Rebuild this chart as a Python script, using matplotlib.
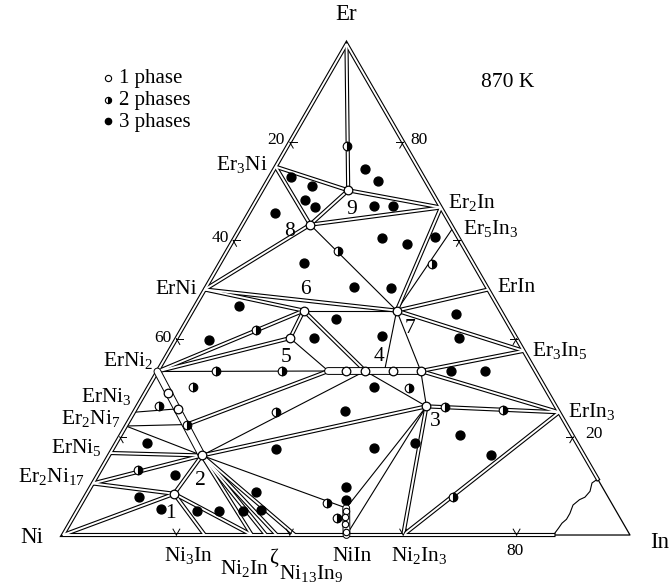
import numpy as np
import matplotlib
matplotlib.use("Agg")
import matplotlib.pyplot as plt

plt.rcParams["font.family"] = ["Liberation Serif", "DejaVu Serif"]
plt.rcParams["mathtext.default"] = "regular"

# compositions in at.% (Er, In), Ni is the balance
corner_names = ["Ni", "In", "Er"]
corner_er = [0, 0, 100]
corner_in = [0, 100, 0]

binary_names = ["Er3Ni", "ErNi", "ErNi2", "ErNi3", "Er2Ni7", "ErNi5", "Er2Ni17",
                "Er2In", "Er5In3", "ErIn", "Er3In5", "ErIn3",
                "Ni3In", "Ni2In", "Zl", "Zr", "Ni13In9", "NiIn", "Ni2In3"]
binary_er = [75, 50, 33.3, 25, 22.2, 16.7, 10.5,
             66.7, 62.5, 50, 37.5, 25,
             0, 0, 0, 0, 0, 0, 0]
binary_in = [0, 0, 0, 0, 0, 0, 0,
             33.3, 37.5, 50, 62.5, 75,
             25, 33.3, 35.8, 37.7, 40.9, 50, 60]

ternary_names = ["T1", "T2", "T3", "T5", "T6", "T7", "T8", "T9"]
ternary_er = [8.4, 16.2, 26.2, 40.1, 45.7, 45.7, 63.2, 70.2]
ternary_in = [15.4, 16.4, 51.0, 20.0, 19.6, 36.0, 12.0, 15.2]

# solid-solution band, ErNi2 line, NiIn column, liquid limits
aux_names = ["B0", "B1", "B2", "B7", "B3", "B4", "S1", "S2", "S3", "Ctop", "Ltop", "Lbot"]
aux_er = [33.4, 33.4, 33.4, 33.4, 33.4, 33.4, 29.0, 25.7, 22.5, 5.5, 11.4, 0]
aux_in = [30.1, 33.3, 36.6, 40.0, 41.5, 46.4, 4.1, 7.4, 10.6, 47.2, 88.6, 86.5]

column_er = [4.9, 3.6, 2.25, 0.7]
column_in = [47.4, 48.0, 48.7, 49.5]

liquid_er = [0, 1.4, 2.4, 3.2, 4.4, 6.1, 7.2, 7.7, 8.9, 10.6, 11.4]
liquid_in = [86.5, 86.7, 86.8, 87.2, 87.2, 86.9, 87.5, 88.2, 88.5, 88.0, 88.6]

double_edges = [("Er", "T9"), ("Er3Ni", "T9"), ("T9", "Er2In"), ("Er3Ni", "T8"),
                ("T9", "T8"), ("T8", "Er2In"), ("T8", "ErNi"), ("ErNi", "T7"),
                ("ErNi", "T6"), ("T6", "T5"), ("T6", "ErNi2"), ("T5", "ErNi2"),
                ("T6", "B2"), ("Er2In", "T7"), ("ErIn", "T7"), ("T7", "Er3In5"),
                ("B4", "Er3In5"), ("B4", "ErIn3"), ("T3", "ErIn3"), ("T3", "Ni2In3"),
                ("ErIn3", "Ni2In3"), ("T3", "T2"), ("B0", "S3"), ("ErNi5", "T2"),
                ("Er2Ni17", "T2"), ("T1", "T2"), ("T1", "Er2Ni17"), ("T1", "Ni"),
                ("T1", "Ni3In"), ("T1", "Ni2In"), ("T2", "Ni2In"), ("T2", "Zl"),
                ("T2", "Zr"), ("T2", "Ni13In9")]
single_edges = [("T8", "T7"), ("T6", "T7"), ("T5", "B0"), ("ErNi2", "B0"),
                ("T7", "B7"), ("T7", "B4"), ("B4", "T3"), ("B2", "T3"), ("B2", "T2"),
                ("T3", "NiIn"), ("T3", "Ctop"), ("T2", "Ctop"), ("Er2Ni7", "T2"),
                ("Er2Ni7", "S3"), ("ErNi3", "S2"), ("Er5In3", "T7")]
band_edges = [("B0", "B4"), ("NiIn", "Ctop"), ("ErNi2", "T2")]

one_phase = ["T1", "T2", "T3", "T5", "T6", "T7", "T8", "T9", "B1", "B2", "B3", "B4", "S1", "S2"]

two_er = [79.2, 57.9, 55.2, 41.8, 33.4, 33.4, 30.2, 30.0, 25.0, 26.2, 22.5, 26.1, 25.4,
          13.2, 7.8, 6.5, 3.4]
two_in = [10.5, 19.6, 37.4, 13.1, 10.3, 22.0, 7.9, 46.1, 25.1, 3.8, 10.6, 54.3, 64.9,
          6.6, 64.9, 43.3, 46.6]

three_er = [74.5, 72.0, 73.0, 71.1, 68.2, 66.8, 67.0, 67.0, 65.5, 60.5,
            59.2, 60.7, 55.4, 50.6, 50.4, 46.6, 44.0, 45.1, 39.8, 40.1,
            40.5, 40.2, 33.4, 33.4, 30.2, 25.3, 20.3, 18.8, 17.8, 17.6,
            16.3, 18.7, 12.2, 7.7, 5.2, 4.8, 4.8, 4.8, 5.0, 8.8,
            9.8, 7.1]
three_in = [16.0, 19.5, 3.7, 8.3, 8.6, 11.0, 21.3, 24.7, 4.7, 26.1,
            31.1, 35.3, 14.8, 26.1, 32.6, 7.7, 26.2, 46.7, 5.8, 24.2,
            36.1, 49.8, 51.8, 57.8, 39.7, 37.1, 59.8, 52.6, 45.9, 28.8,
            67.4, 5.4, 13.7, 9.5, 14.6, 21.2, 25.2, 29.4, 32.4, 29.6,
            45.0, 46.4]

tick_values = [20, 40, 60, 80]

H = np.sqrt(3) / 2


def to_xy(er, inn):
    er = np.asarray(er, dtype=float)
    inn = np.asarray(inn, dtype=float)
    return inn / 100 + er / 200, er / 100 * H


nodes = {}
for names, ers, ins in [(corner_names, corner_er, corner_in),
                        (binary_names, binary_er, binary_in),
                        (ternary_names, ternary_er, ternary_in),
                        (aux_names, aux_er, aux_in)]:
    for n, e, i in zip(names, ers, ins):
        nodes[n] = to_xy(e, i)


def seg(a, b):
    return [nodes[a][0], nodes[b][0]], [nodes[a][1], nodes[b][1]]


fig = plt.figure(figsize=(6.72, 5.84), dpi=100)
ax = fig.add_axes([0, 0, 1, 1])
ax.set_xlim(-0.1111, 1.0741)
ax.set_ylim(-0.0864, 0.9436)
ax.axis("off")

OUT, IN = 3.0, 1.4

# border
bx, by = zip(*[nodes[n] for n in ["Lbot", "Ni", "Er", "Ltop"]])
ax.plot(bx, by, color="black", lw=OUT, zorder=1, solid_joinstyle="miter")
ax.plot(bx, by, color="white", lw=IN, zorder=2, solid_joinstyle="miter")
sx, sy = zip(*[nodes[n] for n in ["Ltop", "In", "Lbot"]])
ax.plot(sx, sy, color="black", lw=0.9, zorder=1)
lx, ly = to_xy(liquid_er, liquid_in)
ax.plot(lx, ly, color="black", lw=0.8, zorder=1)

for a, b in double_edges:
    x, y = seg(a, b)
    ax.plot(x, y, color="black", lw=OUT, zorder=1, solid_capstyle="butt")
    ax.plot(x, y, color="white", lw=IN, zorder=2, solid_capstyle="butt")

for a, b in single_edges:
    x, y = seg(a, b)
    ax.plot(x, y, color="black", lw=0.8, zorder=1)

for a, b in band_edges:
    x, y = seg(a, b)
    ax.plot(x, y, color="black", lw=5.6, zorder=2.2, solid_capstyle="round")
    ax.plot(x, y, color="white", lw=4.2, zorder=2.3, solid_capstyle="round")

# ticks on the three sides
L = 0.012
for v in tick_values:
    for px, py, dirs in [(*to_xy(v, 0), [(1, 0), (0.5, -H)]),
                         (*to_xy(v, 100 - v), [(-1, 0), (-0.5, -H)]),
                         (*to_xy(0, v), [(0.5, H), (-0.5, H)])]:
        for dx, dy in dirs:
            ax.plot([px, px + L * dx], [py, py + L * dy], color="black", lw=0.7, zorder=3)

# phase markers
ox = [nodes[n][0] for n in one_phase]
oy = [nodes[n][1] for n in one_phase]
ax.plot(ox, oy, "o", ms=6.2, mfc="white", mec="black", mew=0.9, ls="none", zorder=4)
cx, cy = to_xy(column_er, column_in)
ax.plot(cx, cy, "o", ms=4.6, mfc="white", mec="black", mew=0.8, ls="none", zorder=4)
hx, hy = to_xy(two_er, two_in)
ax.plot(hx, hy, "o", ms=6.2, fillstyle="right", mfc="black", mfcalt="white",
        mec="black", mew=0.8, ls="none", zorder=4)
fx, fy = to_xy(three_er, three_in)
ax.plot(fx, fy, "o", ms=6.4, color="black", ls="none", zorder=4)

# compound labels: text, node, dx, dy (pixels, centre of capitals), ha, size
labels = [
    ("Er", "Er", 0, 32, "center", 16.5), ("Ni", "Ni", -31, 0, "center", 16.5),
    ("In", "In", 30, -5, "center", 16.5),
    ("Er$_3$Ni", "Er3Ni", -8, 4, "right", 15.5), ("ErNi", "ErNi", -8, 3, "right", 15.5),
    ("ErNi$_2$", "ErNi2", -4, 13, "right", 15.5), ("ErNi$_3$", "ErNi3", -2, 17, "right", 15.5),
    ("Er$_2$Ni$_7$", "Er2Ni7", -6, 9, "right", 15.5), ("ErNi$_5$", "ErNi5", -8, 7, "right", 15.5),
    ("Er$_2$Ni$_{17}$", "Er2Ni17", -8, 9, "right", 15.5),
    ("Er$_2$In", "Er2In", 7, 7, "left", 15.5), ("Er$_5$In$_3$", "Er5In3", 10, 1, "left", 15.5),
    ("ErIn", "ErIn", 9, 5, "left", 15.5), ("Er$_3$In$_5$", "Er3In5", 8, 2, "left", 15.5),
    ("ErIn$_3$", "ErIn3", 9, 2, "left", 15.5),
    ("Ni$_3$In", "Ni3In", -16, -19, "center", 15.5), ("Ni$_2$In", "Ni2In", -7, -32, "center", 15.5),
    ("ζ", "Zl", 8, -21, "center", 15.5), ("Ni$_{13}$In$_9$", "Ni13In9", 16, -37, "center", 15.5),
    ("NiIn", "NiIn", 6, -19, "center", 15.5), ("Ni$_2$In$_3$", "Ni2In3", 16, -19, "center", 15.5),
    ("1", "T1", -4, -17, "center", 15.5), ("2", "T2", -2, -22, "center", 15.5),
    ("3", "T3", 9, -13, "center", 15.5), ("4", "B2", 14, 17, "center", 15.5),
    ("5", "T5", -4, -17, "center", 15.5), ("6", "T6", 2, 24, "center", 15.5),
    ("7", "T7", 13, -15, "center", 15.5), ("8", "T8", -21, -4, "center", 15.5),
    ("9", "T9", 3, -17, "center", 15.5),
]
for text, n, dx, dy, ha, size in labels:
    ax.annotate(text, nodes[n], xytext=(dx, dy - 0.33 * size * 100 / 72),
                textcoords="offset pixels", ha=ha, va="baseline", fontsize=size)

# tick labels: text, Er, In, dx, dy, ha
tick_labels = [("20", 80, 0, -5, 4, "right"), ("40", 60, 0, -4, 4, "right"),
               ("60", 40, 0, -5, 2, "right"), ("80", 80, 20, 7, 4, "left"),
               ("20", 20, 80, 12, 4, "left"), ("80", 0, 80, -2, -14, "center")]
for text, e, i, dx, dy, ha in tick_labels:
    ax.annotate(text, to_xy(e, i), xytext=(dx, dy - 5.5), textcoords="offset pixels",
                ha=ha, va="baseline", fontsize=12.5)

# legend and temperature
W, Hpx = 672, 584
ax.plot(108 / W, 1 - 78 / Hpx, "o", ms=4.5, mfc="white", mec="black", mew=0.8,
        transform=ax.transAxes)
ax.plot(108 / W, 1 - 100 / Hpx, "o", ms=4.5, fillstyle="right", mfc="black",
        mfcalt="white", mec="black", mew=0.8, transform=ax.transAxes)
ax.plot(108 / W, 1 - 121 / Hpx, "o", ms=4.5, color="black", transform=ax.transAxes)
for k, t in enumerate(["1 phase", "2 phases", "3 phases"]):
    ax.text(119 / W, 1 - (83.5 + 21.7 * k) / Hpx, t, transform=ax.transAxes,
            fontsize=15, va="baseline", ha="left")
ax.text(508 / W, 1 - 87 / Hpx, "870 K", transform=ax.transAxes, fontsize=15.5,
        va="baseline", ha="center")

fig.savefig("out.png", dpi=100)
